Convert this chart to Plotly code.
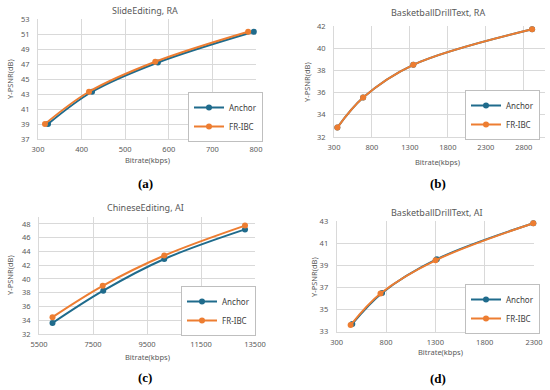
import plotly.graph_objects as go

# ---------------- data ----------------
a_anchor_x = [323, 424, 575, 795]
a_anchor_y = [39.0, 43.3, 47.2, 51.3]
a_fr_x = [316, 417, 569, 782]
a_fr_y = [39.0, 43.3, 47.3, 51.3]

b_anchor_x = [344, 684, 1345, 2910]
b_anchor_y = [32.85, 35.55, 38.5, 41.7]
b_fr_x = [344, 684, 1345, 2910]
b_fr_y = [32.85, 35.55, 38.5, 41.7]

c_anchor_x = [6000, 7880, 10140, 13130]
c_anchor_y = [33.6, 38.3, 42.9, 47.2]
c_fr_x = [6000, 7860, 10140, 13130]
c_fr_y = [34.45, 39.0, 43.4, 47.75]

d_anchor_x = [458, 760, 1315, 2293]
d_anchor_y = [33.7, 36.5, 39.55, 42.8]
d_fr_x = [441, 744, 1302, 2293]
d_fr_y = [33.6, 36.45, 39.45, 42.8]

titles = ["SlideEditing, RA", "BasketballDrillText, RA", "ChineseEditing, AI", "BasketballDrillText, AI"]
captions = ["(a)", "(b)", "(c)", "(d)"]
series_names = ["Anchor", "FR-IBC"]
x_label = "Bitrate(kbps)"
y_label = "Y-PSNR(dB)"

# ---------------- style ----------------
W, H = 550, 390
C_ANCHOR = "#1F6B8C"
C_FR = "#ED7D31"
TXT = "#595959"
GRID = "#D9D9D9"
FONT = "Noto Sans"

def px(x):
    return x / W

def py(y):
    return 1 - y / H

panels = [
    dict(data=[(a_anchor_x, a_anchor_y), (a_fr_x, a_fr_y)],
         xdom=(38, 256), ydom=(139, 19), xr=(300, 800), yr=(37, 53),
         xt0=300, xdt=100, yt0=37, ydt=2,
         title=(145, 10), xt=(147, 160), yt=(10, 79), cap=(145, 183),
         leg=(263, 117)),
    dict(data=[(b_anchor_x, b_anchor_y), (b_fr_x, b_fr_y)],
         xdom=(334, 545), ydom=(137, 26), xr=(300, 3080), yr=(32, 42),
         xt0=300, xdt=500, yt0=32, ydt=2,
         title=(438, 13), xt=(437, 162), yt=(307, 82), cap=(438, 183),
         leg=(540, 115)),
    dict(data=[(c_anchor_x, c_anchor_y), (c_fr_x, c_fr_y)],
         xdom=(39, 255), ydom=(334, 217), xr=(5500, 13500), yr=(32, 49),
         xt0=5500, xdt=2000, yt0=32, ydt=2,
         title=(145, 207), xt=(147, 357), yt=(10, 275), cap=(145, 377),
         leg=(256, 311)),
    dict(data=[(d_anchor_x, d_anchor_y), (d_fr_x, d_fr_y)],
         xdom=(336.7, 534), ydom=(331.7, 221), xr=(300, 2300), yr=(33, 43),
         xt0=300, xdt=500, yt0=33, ydt=2,
         title=(437, 213), xt=(440, 352), yt=(314, 277), cap=(438, 378),
         leg=(540, 309)),
]

fig = go.Figure()
annotations = []
layout = {}

for i, p in enumerate(panels):
    n = "" if i == 0 else str(i + 1)
    legname = "legend" + n
    for (xs, ys), name, col in zip(p["data"], series_names, [C_ANCHOR, C_FR]):
        fig.add_trace(go.Scatter(
            x=xs, y=ys, name=name, mode="lines+markers",
            line=dict(color=col, width=2, shape="spline", smoothing=1),
            marker=dict(color=col, size=6),
            xaxis="x" + n, yaxis="y" + n, legend=legname,
            cliponaxis=False,
        ))
    layout["xaxis" + n] = dict(
        domain=[px(p["xdom"][0]), px(p["xdom"][1])], anchor="y" + n,
        range=list(p["xr"]), tick0=p["xt0"], dtick=p["xdt"], tickformat="d",
        showgrid=True, gridcolor=GRID, gridwidth=1, zeroline=False,
        showline=True, linecolor=GRID, linewidth=1, ticks="",
        tickfont=dict(family=FONT, size=7.5, color=TXT), ticklabelstandoff=3,
        automargin=False,
    )
    layout["yaxis" + n] = dict(
        domain=[py(p["ydom"][0]), py(p["ydom"][1])], anchor="x" + n,
        range=list(p["yr"]), tick0=p["yt0"], dtick=p["ydt"],
        showgrid=True, gridcolor=GRID, gridwidth=1, zeroline=False,
        showline=True, linecolor=GRID, linewidth=1, ticks="",
        tickfont=dict(family=FONT, size=7.5, color=TXT), ticklabelstandoff=6,
        automargin=False,
    )
    layout[legname] = dict(
        x=px(p["leg"][0]), y=py(p["leg"][1]), xanchor="right", yanchor="middle",
        bgcolor="white", bordercolor="#BFBFBF", borderwidth=1,
        font=dict(family=FONT, size=8, color="#404040"),
        itemwidth=30, tracegroupgap=0,
    )
    annotations.append(dict(text=titles[i], x=px(p["title"][0]), y=py(p["title"][1]),
                            xref="paper", yref="paper", showarrow=False,
                            xanchor="center", yanchor="middle",
                            font=dict(family=FONT, size=9, color=TXT)))
    annotations.append(dict(text=x_label, x=px(p["xt"][0]), y=py(p["xt"][1]),
                            xref="paper", yref="paper", showarrow=False,
                            xanchor="center", yanchor="middle",
                            font=dict(family=FONT, size=7.5, color=TXT)))
    annotations.append(dict(text=y_label, x=px(p["yt"][0]), y=py(p["yt"][1]),
                            xref="paper", yref="paper", showarrow=False, textangle=-90,
                            xanchor="center", yanchor="middle",
                            font=dict(family=FONT, size=7.5, color=TXT)))
    annotations.append(dict(text="<b>" + captions[i] + "</b>", x=px(p["cap"][0]), y=py(p["cap"][1]),
                            xref="paper", yref="paper", showarrow=False,
                            xanchor="center", yanchor="middle",
                            font=dict(family="Liberation Serif", size=13, color="black")))

fig.update_layout(
    width=W, height=H, margin=dict(l=0, r=0, t=0, b=0, pad=0, autoexpand=False),
    paper_bgcolor="white", plot_bgcolor="white",
    showlegend=True, annotations=annotations, **layout,
)

fig.write_html(
    "out.html",
    config={"displayModeBar": False},
    post_script="document.body.style.margin='0px';document.body.style.overflow='hidden';",
)
